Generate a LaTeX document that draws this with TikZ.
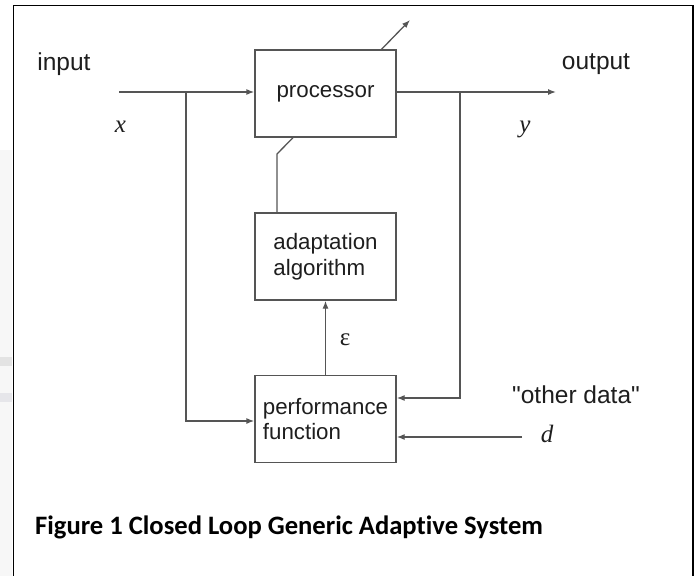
\documentclass[tikz,border=0pt]{standalone}
\usepackage{fontspec}
\setmainfont{Liberation Sans}
\newfontfamily\plainsans{Liberation Sans}
\newfontfamily\mathserif{Liberation Serif}
\newfontfamily\capfont[Ligatures={NoCommon}]{Carlito}
\usetikzlibrary{arrows.meta}
\definecolor{linegray}{HTML}{555555}
\definecolor{txtgray}{HTML}{1E1E1E}
\tikzset{
  blockbox/.style={draw=linegray, line width=1.3pt, minimum width=141pt, minimum height=87pt, inner sep=0pt, align=left, font=\fontsize{22.3}{25.5}\selectfont, text=txtgray},
  conn/.style={draw=linegray, line width=1.3pt},
  arr/.style={conn, -{Latex[length=8pt,width=6pt]}},
  lbl/.style={font=\fontsize{24.5}{28}\plainsans, text=txtgray, inner sep=0pt},
  varlbl/.style={font=\fontsize{25}{28}\mathserif\itshape, text=txtgray, inner sep=0pt},
}
\begin{document}
\begin{tikzpicture}[x=1pt,y=-1pt]
\useasboundingbox (0,0) rectangle (697,576);
\fill[white] (0,0) rectangle (697,576);
% faint background at left edge
\fill[gray!6] (0,150) rectangle (12,576);
\fill[gray!22] (0,357) rectangle (12,366);
\fill[blue!8!gray!18] (0,393) rectangle (12,402);
% frame
\draw[black, line width=1.6pt] (13.5,576) -- (13.5,5.5) -- (693,5.5) -- (693,576);

% blocks
\node[blockbox] (proc) at (325.5,93.5) {processor};
\node[blockbox] (adapt) at (325.5,256.5) {adaptation\\algorithm};
\node[blockbox] (perf) at (325.5,419) {performance\\function};

% coordinates
\coordinate (in) at (119,92);
\coordinate (bx) at (186,92);
\coordinate (out) at (556,92);
\coordinate (by) at (460,92);
\coordinate (dsrc) at (522,437);
\coordinate (knee) at (277,154);
\coordinate (adj) at (410,20);

% connectors
\draw[arr] (in) -- (in -| proc.west);
\draw[arr] (bx) -- (186,421) -- (perf.west |- 0,421);
\draw[arr] (proc.east |- out) -- (out);
\draw[arr] (by) -- (460,398) -- (perf.east |- 0,398);
\draw[arr] (dsrc) -- (perf.east |- dsrc);
\draw[arr] (perf.north) -- (adapt.south);
\draw[conn] (adapt.north -| knee) -- (knee) -- (proc.south -| 293,0);
\draw[arr] (proc.north -| 381.5,0) -- (adj);

% labels
\node[lbl] (linput) at (64,64) {input};
\node[lbl] (loutput) at (596,64) {output};
\node[varlbl] (lx) at (120.5,127) {x};
\node[varlbl] (ly) at (525,129) {y};
\node[font=\fontsize{25}{28}\mathserif, text=txtgray, inner sep=0pt] (leps) at (345,340) {ε};
\node[lbl] (lother) at (576,395) {"other data"};
\node[varlbl] (ld) at (547,434) {d};

% caption
\node[anchor=base west, inner sep=0pt, font=\fontsize{26.6}{30}\capfont\bfseries] (cap) at (35,534) {Figure 1 Closed Loop Generic Adaptive System};
\end{tikzpicture}
\end{document}
